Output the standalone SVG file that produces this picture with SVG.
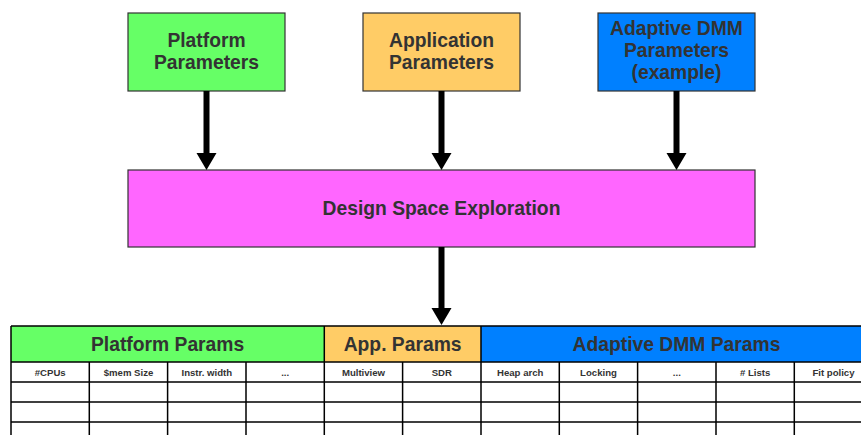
<svg xmlns="http://www.w3.org/2000/svg" width="861" height="435" viewBox="0 0 861 435">
<style>
.box{stroke:#333;stroke-width:1.2}
.t{font-family:"Liberation Sans",Arial,sans-serif;font-weight:bold;fill:#333;text-anchor:middle}
.big{font-size:19.3px}
.sm{font-size:9.6px}
.shaft{stroke:#000;stroke-width:6;fill:none}
.grid{stroke:#000;stroke-width:1.5;fill:none}
</style>
<rect width="861" height="435" fill="#fff"/>
<g id="platform">
<rect class="box" x="128" y="13" width="157" height="78" fill="#66FF66"/>
<text class="t big" x="206.5" y="46.5">Platform</text>
<text class="t big" x="206.5" y="68.5">Parameters</text>
</g>
<g id="application">
<rect class="box" x="363" y="13" width="157" height="78" fill="#FFCC66"/>
<text class="t big" x="441.5" y="46.5">Application</text>
<text class="t big" x="441.5" y="68.5">Parameters</text>
</g>
<g id="adaptive">
<rect class="box" x="598" y="13" width="157" height="78" fill="#0080FF"/>
<text class="t big" x="676.5" y="35">Adaptive DMM</text>
<text class="t big" x="676.5" y="57">Parameters</text>
<text class="t big" x="676.5" y="79">(example)</text>
</g>
<g id="dse">
<rect class="box" x="128" y="170" width="627" height="77" fill="#FF66FF"/>
<text class="t big" x="441.5" y="215">Design Space Exploration</text>
</g>
<g id="connectors">
<path d="M206.5,91 V153" class="shaft"/>
<path d="M196.5,153 H216.5 L206.5,170 Z" fill="#000"/>
<path d="M441.5,91 V153" class="shaft"/>
<path d="M431.5,153 H451.5 L441.5,170 Z" fill="#000"/>
<path d="M676.5,91 V153" class="shaft"/>
<path d="M666.5,153 H686.5 L676.5,170 Z" fill="#000"/>
<path d="M441.5,247 V308" class="shaft"/>
<path d="M431.5,308 H451.5 L441.5,325 Z" fill="#000"/>
</g>
<g id="table">
<rect x="11" y="326" width="313.3" height="36" fill="#66FF66"/>
<rect x="324.3" y="326" width="156.7" height="36" fill="#FFCC66"/>
<rect x="481" y="326" width="390" height="36" fill="#0080FF"/>
<text class="t big" x="167.6" y="350.5">Platform Params</text>
<text class="t big" x="402.6" y="350.5">App. Params</text>
<text class="t big" x="676.5" y="350.5">Adaptive DMM Params</text>
<path class="grid" d="M11,326 H871 M11,362 H871 M11,382 H871 M11,402 H871 M11,422 H871 M11,326 V435 M324.3,326 V435 M481,326 V435 M89.3,362 V435 M167.6,362 V435 M246,362 V435 M402.6,362 V435 M559.3,362 V435 M637.6,362 V435 M716,362 V435 M794.3,362 V435"/>
<text class="t sm" x="50.2" y="375.5">#CPUs</text>
<text class="t sm" x="128.5" y="375.5">$mem Size</text>
<text class="t sm" x="206.8" y="375.5">Instr. width</text>
<text class="t sm" x="285.2" y="375.5">...</text>
<text class="t sm" x="363.5" y="375.5">Multiview</text>
<text class="t sm" x="441.8" y="375.5">SDR</text>
<text class="t sm" x="520.2" y="375.5">Heap arch</text>
<text class="t sm" x="598.5" y="375.5">Locking</text>
<text class="t sm" x="676.8" y="375.5">...</text>
<text class="t sm" x="755.2" y="375.5"># Lists</text>
<text class="t sm" x="833.5" y="375.5">Fit policy</text>
</g>
</svg>
